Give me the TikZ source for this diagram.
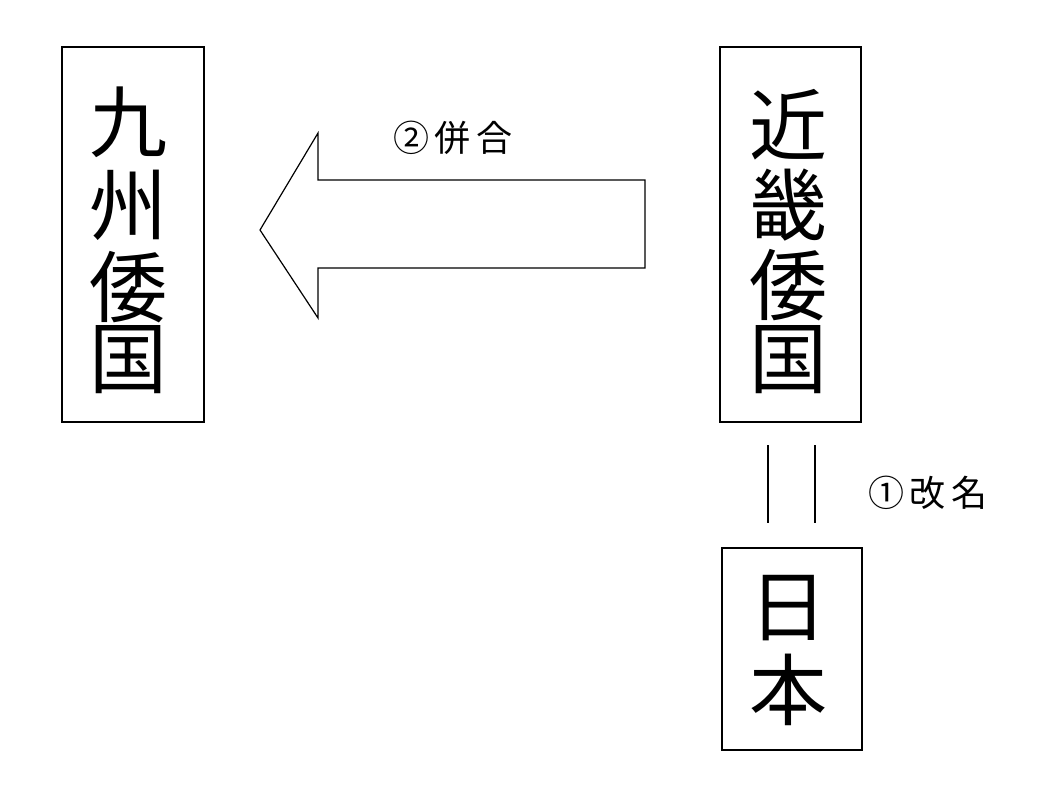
\documentclass[tikz,border=0pt]{standalone}
\usepackage{fontspec}
\newfontfamily\cjk{Noto Sans CJK JP}
\begin{document}
\begin{tikzpicture}[x=1pt,y=-1pt,
  box/.style={draw,line width=1.2pt},
  big/.style={font=\cjk\fontsize{78}{80}\selectfont,inner sep=0pt},
  lab/.style={font=\cjk\fontsize{36}{38}\selectfont,inner sep=0pt}]
\useasboundingbox (0,0) rectangle (1057,798);
\draw[box] (62,47) rectangle (204,422);
\draw[box] (720,47) rectangle (861,422);
\draw[box] (722,548) rectangle (862,750);
\foreach \c/\y in {九/122,州/205,倭/287,国/360} \node[big] (l\y) at (128,\y) {\c};
\foreach \c/\y in {近/125,畿/205,倭/285,国/360} \node[big] (r\y) at (788,\y) {\c};
\node[big] (n1) at (788,608) {日};
\node[big] (n2) at (788,690) {本};
\coordinate (a1) at (768,445); \coordinate (a2) at (768,523);
\coordinate (b1) at (815,445); \coordinate (b2) at (815,523);
\draw[line width=1.2pt] (a1)--(a2) (b1)--(b2);
\draw[line width=1.2pt] (645,180)--(318,180)--(318,133)--(260,230)--(318,318)--(318,268)--(645,268)--cycle;
\node[lab] (t2) at (453,138) {②\,併\,合};
\node[lab] (t1) at (928,493) {①\,改\,名};
\end{tikzpicture}
\end{document}
